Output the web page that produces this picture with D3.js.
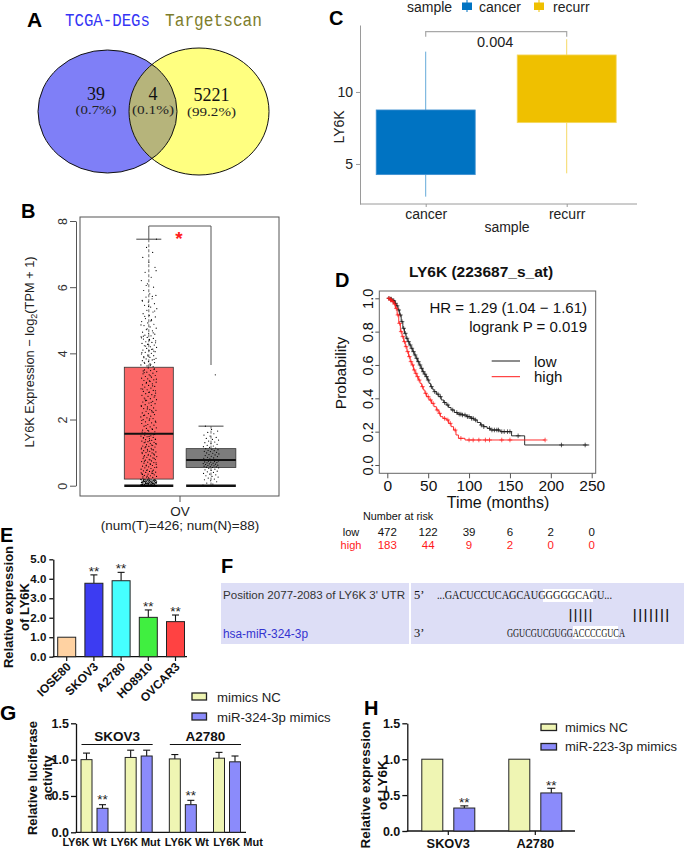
<!DOCTYPE html>
<html><head><meta charset="utf-8">
<script src="https://cdn.jsdelivr.net/npm/d3@7"></script>
<style>body{margin:0;background:#fff}svg{display:block;font-family:"Liberation Sans",Arial,sans-serif}</style>
</head><body><svg id="c" width="685" height="850"></svg>
<script>
// ---------------- DATA ----------------
// A: Venn
const vennSets = ["TCGA-DEGs", "Targetscan"];
const vennCounts = [39, 4, 5221];
const vennPercents = ["(0.7%)", "(0.1%)", "(99.2%)"];
// C: boxplot cancer vs recurr
const cSamples = ["cancer", "recurr"];
const cMin = [2.73, 4.35];
const cQ1 = [4.26, 7.87];
const cQ3 = [8.75, 12.57];
const cMax = [12.8, 13.66];
const cPValue = "0.004";
const cTicks = [5, 10];
// B: GEPIA boxplot
const bGroups = ["T", "N"];
const bMin = [0, 0];
const bQ1 = [0.2, 0.55];
const bMed = [1.57, 0.78];
const bQ3 = [3.58, 1.12];
const bMax = [7.45, 1.8];
const bTicks = [0, 2, 4, 6, 8];
const bTumor = [
0,0,0,0,0,0,0,0,0,0,0,0,0,0,0,0,0,0,0,0,0,0,0,0,0,0,0,0,0,0,
0.01,0.02,0.02,0.03,0.03,0.04,0.04,0.05,0.05,0.05,0.06,0.06,0.07,0.07,0.08,0.08,0.08,0.09,0.09,0.1,
0.1,0.1,0.11,0.11,0.12,0.12,0.12,0.13,0.13,0.14,0.14,0.15,0.15,0.15,0.16,0.16,0.17,0.17,0.18,0.18,
0.19,0.19,0.02,0.04,0.06,0.08,0.1,0.12,0.14,0.16,0.18,0.03,0.05,0.07,0.09,0.11,0.13,0.15,0.17,0.19,
0.01,0.03,0.05,0.07,0.09,0.11,0.13,0.15,0.17,0.19,0.06,0.08,0.1,0.12,0.14,0.16,
0.21,0.23,0.25,0.26,0.28,0.3,0.31,0.33,0.35,0.36,0.38,0.4,0.41,0.43,0.45,0.47,0.48,0.5,0.52,0.54,
0.55,0.57,0.59,0.61,0.62,0.64,0.66,0.68,0.7,0.71,0.73,0.75,0.77,0.79,0.8,0.82,0.84,0.86,0.88,0.9,
0.91,0.93,0.95,0.97,0.99,1.0,1.02,1.04,1.06,1.08,1.1,1.11,1.13,1.15,1.17,1.19,1.2,1.22,1.24,1.26,
1.28,1.3,1.31,1.33,1.35,1.37,1.39,1.4,1.42,1.44,1.46,1.48,1.5,1.51,1.53,1.55,0.24,0.34,0.44,0.6,
0.69,0.78,0.87,0.96,1.05,1.14,1.23,1.32,1.41,1.49,0.27,0.37,0.46,0.56,0.65,0.74,0.83,0.92,1.01,1.09,
1.18,1.27,1.36,1.45,1.54,0.29,0.39,
1.58,1.6,1.63,1.65,1.68,1.7,1.73,1.75,1.78,1.8,1.83,1.85,1.88,1.9,1.93,1.95,1.98,2.0,2.03,2.05,
2.08,2.1,2.13,2.15,2.18,2.2,2.23,2.25,2.28,2.3,2.33,2.35,2.38,2.4,2.43,2.45,2.48,2.5,2.53,2.55,
2.58,2.6,2.63,2.65,2.68,2.7,2.73,2.75,2.78,2.8,2.83,2.85,2.88,2.9,2.93,2.95,2.98,3.0,3.03,3.05,
3.08,3.1,3.13,3.15,3.18,3.2,3.23,3.25,3.28,3.3,3.33,3.35,3.38,3.4,3.43,3.45,3.48,3.5,3.53,3.56,
1.62,1.72,1.82,1.92,2.02,2.12,2.22,2.32,2.42,2.52,2.62,2.72,2.82,2.92,3.02,3.12,3.22,3.32,3.42,3.52,
1.67,1.97,2.27,2.57,2.87,3.17,3.47,
3.6,3.62,3.65,3.67,3.7,3.72,3.75,3.78,3.8,3.83,3.85,3.88,3.9,3.93,3.95,3.98,4.0,4.03,4.05,4.08,
4.1,4.13,4.15,4.18,4.2,4.23,4.25,4.28,4.3,4.33,4.35,4.38,4.4,4.43,4.45,4.48,4.5,4.53,4.55,4.58,
4.6,4.64,4.68,4.72,4.76,4.8,4.84,4.88,4.92,4.96,5.0,5.05,5.1,5.15,5.2,5.25,5.3,5.35,5.4,5.45,
5.5,5.55,5.6,5.65,5.7,5.75,5.8,5.9,6.0,6.1,6.2,6.3,6.45,6.6,6.75,6.9,7.05,7.2,7.45,3.63,
3.73,3.82,3.92,4.02,4.12,4.22,4.32,4.42,4.52,4.62,4.74,4.86,4.98,5.12,5.28,5.42,5.58,5.72,6.05,6.5,
3.68,3.87,4.07,4.27,4.47,5.02];
const bNormal = [
0.02,0.05,0.08,0.12,0.15,0.18,0.2,0.23,0.26,0.28,0.3,0.33,0.35,0.37,0.4,0.42,0.44,0.46,0.48,0.5,0.52,0.54,
0.55,0.56,0.57,0.58,0.59,0.6,0.61,0.62,0.63,0.64,0.65,0.66,0.67,0.68,0.69,0.7,0.71,0.72,0.73,0.74,0.75,0.77,
0.78,0.8,0.81,0.83,0.84,0.86,0.88,0.89,0.91,0.93,0.94,0.96,0.98,0.99,1.01,1.03,1.04,1.06,1.07,1.09,1.1,1.12,
1.14,1.16,1.18,1.2,1.22,1.25,1.27,1.3,1.32,1.35,1.38,1.4,1.43,1.46,1.5,1.53,1.57,1.61,1.65,1.7,1.8,3.35];
// D: Kaplan-Meier
const kmLowT = [0,3,6,9,11,13,15,17,19,21,23,25,27,29,31,33,35,37,39,41,43,45,47,49,51,53,55,57,60,63,66,69,72,75,78,82,86,92,97,102,106,110,114,118,122,126,138,152,168,247];
const kmLowS = [1,0.995,0.985,0.97,0.955,0.93,0.9,0.86,0.82,0.79,0.76,0.74,0.72,0.7,0.68,0.66,0.64,0.62,0.6,0.58,0.56,0.545,0.53,0.51,0.49,0.47,0.455,0.44,0.425,0.41,0.39,0.375,0.36,0.345,0.33,0.315,0.305,0.3,0.29,0.28,0.27,0.255,0.24,0.23,0.22,0.21,0.2,0.175,0.12,0.12];
const kmHighT = [0,3,6,8,10,12,14,16,18,20,22,24,26,28,30,32,34,36,38,40,42,44,46,48,51,54,57,60,63,65,68,72,75,78,81,84,87,95,193];
const kmHighS = [1,0.99,0.98,0.965,0.94,0.9,0.85,0.8,0.77,0.74,0.71,0.68,0.65,0.62,0.6,0.57,0.55,0.53,0.51,0.49,0.47,0.45,0.43,0.41,0.39,0.37,0.35,0.33,0.31,0.29,0.28,0.27,0.25,0.23,0.21,0.18,0.16,0.15,0.15];
const kmLowCensor = [2,4,5,7,8,10,12,14,16,18,20,22,24,26,28,30,32,34,36,38,40,42,44,46,48,50,54,58,62,65,70,74,80,85,88,90,92,95,98,100,103,105,108,115,118,125,128,131,134,136,140,143,147,150,160,213,242];
const kmHighCensor = [2,4,5,7,9,11,13,15,17,19,21,23,25,27,29,31,33,35,37,39,43,47,50,53,56,61,64,70,74,77,83,90,100,105,112,120,125,140,150,193];
const dXTicks = [0,50,100,150,200,250];
const dYTicks = [0,0.2,0.4,0.6,0.8,1.0];
const riskTimes = [0,50,100,150,200,250];
const riskLow = [472,122,39,6,2,0];
const riskHigh = [183,44,9,2,0,0];
const dHR = "HR = 1.29 (1.04 \u2212 1.61)";
const dLogrank = "logrank P = 0.019";
// E: qPCR cell lines
const eCells = ["IOSE80","SKOV3","A2780","HO8910","OVCAR3"];
const eMean = [1.0, 3.77, 3.9, 2.02, 1.8];
const eErr = [0, 0.43, 0.43, 0.38, 0.34];
const eSig = ["", "**", "**", "**", "**"];
const eTicks = [0,1,2,3,4,5];
// G: luciferase
const gLabels = ["LY6K Wt","LY6K Mut","LY6K Wt","LY6K Mut"];
const gLines = ["SKOV3","A2780"];
const gSeries = ["mimics NC","miR-324-3p mimics"];
const gNC = [1.0, 1.03, 1.01, 1.02];
const gNCErr = [0.09, 0.1, 0.06, 0.08];
const gMim = [0.33, 1.05, 0.38, 0.97];
const gMimErr = [0.05, 0.08, 0.06, 0.08];
const gSig = ["**","","**",""];
const ghTicks = [0,0.5,1.0,1.5];
// H: expression after mimics
const hCells = ["SKOV3","A2780"];
const hSeries = ["mimics NC","miR-223-3p mimics"];
const hNC = [1.0, 1.0];
const hMim = [0.32, 0.53];
const hMimErr = [0.03, 0.065];
const hSig = ["**","**"];

// ---------------- DRAW ----------------
const svg = d3.select("#c");
const defs = svg.append("defs");
function T(g, x, y, s, o) {
  const t = g.append("text").attr("x", x).attr("y", y).text(s);
  if (o) for (const k in o) t.attr(k, o[k]);
  return t;
}
function L(g, x1, y1, x2, y2, stroke, w, dash) {
  const l = g.append("line").attr("x1",x1).attr("y1",y1).attr("x2",x2).attr("y2",y2)
    .attr("stroke",stroke).attr("stroke-width",w||1);
  if (dash) l.attr("stroke-dasharray",dash);
  return l;
}

// ===== Panel A =====
(function(){
  const g = svg.append("g");
  T(g, 27, 27, "A", {"font-size":21,"font-weight":"bold"});
  const E1 = {cx:107.5, cy:111.5, rx:69.5, ry:61.5};
  const E2 = {cx:199, cy:111.5, rx:70, ry:63.5};
  defs.append("clipPath").attr("id","clipL").append("ellipse")
    .attr("cx",E1.cx).attr("cy",E1.cy).attr("rx",E1.rx).attr("ry",E1.ry);
  const ell = (e, fill, clip) => {
    const el = g.append("ellipse").attr("cx",e.cx).attr("cy",e.cy).attr("rx",e.rx).attr("ry",e.ry).attr("fill",fill);
    if (clip) el.attr("clip-path","url(#clipL)");
    return el;
  };
  ell(E1, "#7f7ff7");
  ell(E2, "#ffff80");
  ell(E2, "#b6b47b", true);
  ell(E1, "none").attr("stroke","#111").attr("stroke-width",1);
  ell(E2, "none").attr("stroke","#111").attr("stroke-width",1);
  const mono = '"Liberation Mono","DejaVu Sans Mono",monospace';
  T(g, 65, 26, vennSets[0], {"font-family":mono,"font-size":18,fill:"#3535f5",textLength:85,lengthAdjust:"spacingAndGlyphs"});
  T(g, 165, 26, vennSets[1], {"font-family":mono,"font-size":18,fill:"#7d7d2b",textLength:97,lengthAdjust:"spacingAndGlyphs"});
  const serif = '"Liberation Serif","DejaVu Serif",serif';
  const cxs = [96, 153, 211.5], nb = [99.5, 99.5, 101], pb = [114, 113.5, 115.5], pw = [41, 42, 49];
  vennCounts.forEach((v,i) => {
    T(g, cxs[i], nb[i], v, {"font-family":serif,"font-size":18,"text-anchor":"middle",fill:"#111"});
    T(g, cxs[i]-pw[i]/2, pb[i], vennPercents[i], {"font-family":serif,"font-size":13,fill:"#222",textLength:pw[i],lengthAdjust:"spacingAndGlyphs"});
  });
})();

// ===== Panel C =====
(function(){
  const g = svg.append("g");
  T(g, 329, 25, "C", {"font-size":20,"font-weight":"bold"});
  const y = d3.scaleLinear().domain([2.22, 14.65]).range([204, 25]);
  const x = d3.scalePoint().domain(cSamples).range([425.7, 566.7]);
  const cols = ["#0073C2", "#EFC000"];
  const ya = g.append("g").attr("transform","translate(360,0)")
    .call(d3.axisLeft(y).tickValues(cTicks).tickSize(4).tickSizeOuter(0).tickPadding(3));
  ya.selectAll("path,line").attr("stroke","#9a9a9a");
  ya.selectAll("text").attr("font-size",14).attr("fill","#222").attr("font-family",null);
  const xa = g.append("g").attr("transform","translate(0,204)")
    .call(d3.axisBottom(x).tickSize(3).tickPadding(2));
  xa.select(".domain").remove();
  xa.selectAll("line").attr("stroke","#9a9a9a");
  xa.selectAll("text").attr("font-size",14).attr("fill","#222").attr("font-family",null);
  L(g, 360, 204, 637, 204, "#9a9a9a", 1);
  cSamples.forEach((s,i) => {
    const cx = x(s);
    L(g, cx, y(cMax[i]), cx, y(cQ3[i]), cols[i], 1).attr("opacity",0.6);
    L(g, cx, y(cQ1[i]), cx, y(cMin[i]), cols[i], 1).attr("opacity",0.6);
    g.append("rect").attr("x", cx-49.5).attr("width",99)
      .attr("y", y(cQ3[i])).attr("height", y(cQ1[i]) - y(cQ3[i]))
      .attr("fill", cols[i]).attr("stroke", i ? "#f5d860" : "#3f8fd0").attr("stroke-width",0.8);
  });
  g.append("path").attr("d",`M${x(cSamples[0])},36.7V31.7H${x(cSamples[1])}V36.7`)
    .attr("fill","none").attr("stroke","#a8a8a8").attr("stroke-width",1.2);
  T(g, (x(cSamples[0])+x(cSamples[1]))/2 - 1, 46.5, cPValue, {"font-size":14.5,"text-anchor":"middle",fill:"#222"});
  T(g, 339, 127, "LY6K", {"font-size":14,"text-anchor":"middle",fill:"#222",dy:"0.35em",transform:"rotate(-90,339,127)"});
  T(g, 507, 232, "sample", {"font-size":14,"text-anchor":"middle",fill:"#222"});
  // legend
  T(g, 407, 11.5, "sample", {"font-size":14,fill:"#222"});
  const lx = [462, 534], tx = [479, 553];
  cSamples.forEach((s,i) => {
    g.append("rect").attr("x",lx[i]).attr("y",2.5).attr("width",10).attr("height",7.5).attr("fill",cols[i]);
    L(g, lx[i]+5, 0, lx[i]+5, 12, cols[i], 1);
    T(g, tx[i], 11.5, s, {"font-size":14,fill:"#222"});
  });
})();

// ===== Panel B =====
(function(){
  const g = svg.append("g");
  T(g, 21, 218, "B", {"font-size":20,"font-weight":"bold"});
  const y = d3.scaleLinear().domain([0, 8]).range([485.7, 221]);
  const x = d3.scalePoint().domain(bGroups).range([148.8, 211]);
  g.append("rect").attr("x",80).attr("y",217).attr("width",199).attr("height",279)
    .attr("fill","none").attr("stroke","#555").attr("stroke-width",1);
  const ya = g.append("g").attr("transform","translate(76,0)")
    .call(d3.axisLeft(y).tickValues(bTicks).tickSize(6).tickSizeOuter(0));
  ya.selectAll("path,line").attr("stroke","#555");
  ya.selectAll("text").attr("font-size",12.5).attr("fill","#333").attr("font-family",null)
    .attr("x",null).attr("dy","0.35em").attr("text-anchor","middle").attr("transform","translate(-13,0) rotate(-90)");
  const cols = ["#fb6767", "#7c7c7c"];
  const jit = (i) => (((i * 0.6180339887) % 1) - 0.5) * 16;
  bGroups.forEach((gr,i) => {
    const cx = x(gr), w = i ? 49.7 : 49;
    L(g, cx, y(bQ3[i]), cx, y(bMax[i]), "#444", 0.8, "3,2");
    L(g, cx, y(bQ1[i]), cx, y(bMin[i]), "#444", 0.8, "3,2");
    L(g, cx-12.5, y(bMax[i]), cx+12.5, y(bMax[i]), "#444", 1);
    g.append("rect").attr("x",cx-w/2).attr("width",w).attr("y",y(bQ3[i])).attr("height",y(bQ1[i])-y(bQ3[i]))
      .attr("fill",cols[i]).attr("stroke","#333").attr("stroke-width",0.8);
    L(g, cx-w/2, y(bMin[i]), cx+w/2, y(bMin[i]), "#111", 2.4);
    const vals = i ? bNormal : bTumor;
    g.append("g").selectAll("circle").data(vals).join("circle")
      .attr("cx",(d,k) => cx + jit(k)).attr("cy", d => y(d)).attr("r",0.6).attr("fill","#000");
    L(g, cx-w/2, y(bMed[i]), cx+w/2, y(bMed[i]), "#111", 2);
  });
  g.append("path").attr("d",`M${x("T")},239V226H${x("N")}V365`).attr("fill","none").attr("stroke","#555").attr("stroke-width",1);
  T(g, 179, 244.5, "*", {"font-size":19,"text-anchor":"middle",fill:"#ff2020","font-weight":"bold"});
  L(g, 180, 496, 180, 502, "#555", 1);
  T(g, 180, 515.5, "OV", {"font-size":13.5,"text-anchor":"middle",fill:"#222"});
  T(g, 180, 530, "(num(T)=426; num(N)=88)", {"font-size":13.5,"text-anchor":"middle",fill:"#222"});
  const yl = T(g, 30, 352, "", {"font-size":12.8,"text-anchor":"middle",fill:"#222",dy:"0.35em",transform:"rotate(-90,30,352)"});
  yl.append("tspan").text("LY6K Expression \u2212 log");
  yl.append("tspan").text("2").attr("font-size",9).attr("dy",3);
  yl.append("tspan").text("(TPM + 1)").attr("dy",-3);
})();

// ===== Panel D =====
(function(){
  const g = svg.append("g");
  T(g, 335, 287, "D", {"font-size":20,"font-weight":"bold"});
  const x = d3.scaleLinear().domain([0, 250]).range([387.3, 591.7]);
  const y = d3.scaleLinear().domain([0, 1]).range([465, 298.3]);
  g.append("rect").attr("x",379.3).attr("y",291).attr("width",216.4).attr("height",182.3)
    .attr("fill","none").attr("stroke","#666").attr("stroke-width",1);
  const xa = g.append("g").attr("transform","translate(0,473.3)")
    .call(d3.axisBottom(x).tickValues(dXTicks).tickSize(5).tickPadding(2));
  xa.select(".domain").remove();
  xa.selectAll("line").attr("stroke","#555");
  xa.selectAll("text").attr("font-size",15.5).attr("fill","#111").attr("font-family",null);
  const ya = g.append("g").attr("transform","translate(379.3,0)")
    .call(d3.axisLeft(y).tickValues(dYTicks).tickFormat(d3.format(".1f")).tickSize(4));
  ya.select(".domain").remove();
  ya.selectAll("line").attr("stroke","#555");
  ya.selectAll("text").attr("font-size",14.5).attr("fill","#111").attr("font-family",null)
    .attr("x",null).attr("dy","0.35em").attr("text-anchor","middle").attr("transform","translate(-11,0) rotate(-90)");
  T(g, 481, 277, "LY6K (223687_s_at)", {"font-size":15.5,"font-weight":"bold","text-anchor":"middle",fill:"#111"});
  const line = d3.line().x(d => x(d[0])).y(d => y(d[1])).curve(d3.curveStepAfter);
  const series = [[kmLowT, kmLowS, kmLowCensor, "#1a1a1a"], [kmHighT, kmHighS, kmHighCensor, "#ff1a1a"]];
  series.forEach(([ts, ss, cs, col]) => {
    const pts = ts.map((t,i) => [t, ss[i]]);
    g.append("path").attr("d", line(pts)).attr("fill","none").attr("stroke",col).attr("stroke-width",0.9);
    const surv = t => { let s = ss[0]; for (let i=0;i<ts.length;i++) if (ts[i] <= t) s = ss[i]; return s; };
    g.append("path").attr("d", cs.map(t => {
      const px = x(t), py = y(surv(t));
      return `M${px-2.3},${py}H${px+2.3}M${px},${py-2.3}V${py+2.3}`;
    }).join("")).attr("stroke",col).attr("stroke-width",0.7).attr("fill","none");
  });
  T(g, 587, 313, dHR, {"font-size":15,"text-anchor":"end",fill:"#111"});
  T(g, 587, 331.5, dLogrank, {"font-size":15,"text-anchor":"end",fill:"#111"});
  L(g, 491.7, 361, 520, 361, "#1a1a1a", 1);
  L(g, 491.7, 376.7, 520, 376.7, "#ff1a1a", 1);
  T(g, 534, 366.5, "low", {"font-size":15,fill:"#111"});
  T(g, 534, 382, "high", {"font-size":15,fill:"#111"});
  T(g, 341, 373, "Probability", {"font-size":15.5,"text-anchor":"middle",fill:"#111",dy:"0.35em",transform:"rotate(-90,341,373)"});
  T(g, 498, 508, "Time (months)", {"font-size":16,"text-anchor":"middle",fill:"#111"});
  T(g, 363, 520, "Number at risk", {"font-size":10.8,fill:"#111"});
  T(g, 351, 536, "low", {"font-size":11,"text-anchor":"middle",fill:"#111"});
  T(g, 351, 548.5, "high", {"font-size":11,"text-anchor":"middle",fill:"#ff1a1a"});
  riskTimes.forEach((t,i) => {
    T(g, x(t), 536, riskLow[i], {"font-size":11.5,"text-anchor":"middle",fill:"#111"});
    T(g, x(t), 548.5, riskHigh[i], {"font-size":11.5,"text-anchor":"middle",fill:"#ff1a1a"});
  });
})();

// ===== Panel E =====
(function(){
  const g = svg.append("g");
  T(g, 0, 542, "E", {"font-size":20,"font-weight":"bold"});
  const y = d3.scaleLinear().domain([0, 5]).range([656.7, 559.3]);
  const x = d3.scalePoint().domain(eCells).range([66.7, 175.5]);
  const cols = ["#ffd2a2", "#3c3cf2", "#45ffff", "#40ef40", "#ff4242"];
  const ya = g.append("g").attr("transform","translate(53.3,0)")
    .call(d3.axisLeft(y).tickValues(eTicks).tickSize(4).tickSizeOuter(0).tickPadding(3));
  ya.selectAll("path,line").attr("stroke","#111").attr("stroke-width",1.3);
  ya.selectAll("text").attr("font-size",11.5).attr("font-weight","bold").attr("fill","#111").attr("font-family",null);
  L(g, 52.7, 656.7, 187, 656.7, "#111", 1.3);
  eCells.forEach((c,i) => {
    const cx = x(c);
    L(g, cx, 656.7, cx, 661, "#111", 1.2);
    if (eErr[i] > 0) {
      L(g, cx, y(eMean[i]), cx, y(eMean[i]+eErr[i]), "#111", 1.1);
      L(g, cx-3.5, y(eMean[i]+eErr[i]), cx+3.5, y(eMean[i]+eErr[i]), "#111", 1.1);
    }
    g.append("rect").attr("x",cx-9).attr("width",18).attr("y",y(eMean[i])).attr("height",y(0)-y(eMean[i]))
      .attr("fill",cols[i]).attr("stroke","#222").attr("stroke-width",1);
    if (eSig[i]) T(g, cx, y(eMean[i]+eErr[i]) + 1, eSig[i], {"font-size":13.5,"text-anchor":"middle",fill:"#222"});
    T(g, cx+5, 667.5, c, {"font-size":12,"font-weight":"bold","text-anchor":"end",fill:"#111",transform:`rotate(-45,${cx+5},667.5)`});
  });
  T(g, 8, 607, "Relative expression", {"font-size":13,"font-weight":"bold","text-anchor":"middle",fill:"#111",dy:"0.35em",transform:"rotate(-90,8,607)"});
  T(g, 24, 607, "of LY6K", {"font-size":13,"font-weight":"bold","text-anchor":"middle",fill:"#111",dy:"0.35em",transform:"rotate(-90,24,607)"});
})();

// ===== Panel F =====
(function(){
  const g = svg.append("g");
  T(g, 221, 573, "F", {"font-size":20,"font-weight":"bold"});
  g.append("rect").attr("x",221).attr("y",583).attr("width",463).attr("height",61).attr("fill","#dddef6");
  L(g, 410, 583, 410, 644, "#ffffff", 2);
  T(g, 223, 599, "Position 2077-2083 of LY6K 3' UTR", {"font-size":11.5,fill:"#333",textLength:182,lengthAdjust:"spacingAndGlyphs"});
  T(g, 223, 638, "hsa-miR-324-3p", {"font-size":12.5,fill:"#3434d0",textLength:85,lengthAdjust:"spacingAndGlyphs"});
  const serif = '"Liberation Serif","DejaVu Serif",serif';
  g.append("rect").attr("x",543).attr("y",589).attr("width",50).attr("height",13).attr("fill","#fff");
  g.append("rect").attr("x",573).attr("y",626).attr("width",45).attr("height",13).attr("fill","#fff");
  T(g, 414, 599, "5\u2019", {"font-family":serif,"font-size":12.5,fill:"#111"});
  T(g, 414, 637, "3\u2019", {"font-family":serif,"font-size":12.5,fill:"#111"});
  T(g, 437, 599, "...GACUCCUCAGCAUGGGGGCAGU...", {"font-family":serif,"font-size":12,fill:"#111",textLength:175,lengthAdjust:"spacingAndGlyphs"});
  T(g, 507, 637, "GGUCGUCGUGGACCCCGUCA", {"font-family":serif,"font-size":12,fill:"#111",textLength:118,lengthAdjust:"spacingAndGlyphs"});
  T(g, 568, 618.5, "|||||", {"font-family":serif,"font-size":14,fill:"#111",textLength:25,lengthAdjust:"spacingAndGlyphs"});
  T(g, 632, 618.5, "|||||||", {"font-family":serif,"font-size":14,fill:"#111",textLength:38,lengthAdjust:"spacingAndGlyphs"});
})();

// ===== Panel G =====
(function(){
  const g = svg.append("g");
  T(g, 0, 720, "G", {"font-size":21,"font-weight":"bold"});
  const y = d3.scaleLinear().domain([0, 1.5]).range([832.3, 723.3]);
  const x = d3.scalePoint().domain(d3.range(gLabels.length)).range([94.5, 227]);
  const lx = d3.scalePoint().domain(d3.range(gLabels.length)).range([84.5, 238]);
  const cols = ["#eff5b3", "#8b8bfb"];
  const ya = g.append("g").attr("transform","translate(76,0)")
    .call(d3.axisLeft(y).tickValues(ghTicks).tickFormat(d3.format(".1f")).tickSize(5).tickSizeOuter(0).tickPadding(2));
  ya.selectAll("path,line").attr("stroke","#111").attr("stroke-width",1.3);
  ya.selectAll("text").attr("font-size",12.5).attr("font-weight","bold").attr("fill","#111").attr("font-family",null);
  L(g, 75.5, 832.3, 246, 832.3, "#111", 1.3);
  const bar = (cx, v, e, col) => {
    if (e > 0) {
      L(g, cx, y(v), cx, y(v+e), "#111", 1.1);
      L(g, cx-3.5, y(v+e), cx+3.5, y(v+e), "#111", 1.1);
    }
    g.append("rect").attr("x",cx-5.5).attr("width",11).attr("y",y(v)).attr("height",y(0)-y(v))
      .attr("fill",col).attr("stroke","#222").attr("stroke-width",1);
  };
  gLabels.forEach((lab,i) => {
    bar(x(i)-8, gNC[i], gNCErr[i], cols[0]);
    bar(x(i)+8, gMim[i], gMimErr[i], cols[1]);
    if (gSig[i]) T(g, x(i)+8, y(gMim[i]+gMimErr[i]) - 0.5, gSig[i], {"font-size":13.5,"text-anchor":"middle",fill:"#222"});
    T(g, lx(i), 846, lab, {"font-size":11,"font-weight":"bold","text-anchor":"middle",fill:"#111"});
  });
  gLines.forEach((c,j) => {
    const x0 = x(2*j) - 13, x1 = x(2*j+1) + 14;
    L(g, x0, 744.5, x1, 744.5, "#111", 1.1);
    T(g, (x0+x1)/2, 740.5, c, {"font-size":13.5,"font-weight":"bold","text-anchor":"middle",fill:"#111"});
  });
  T(g, 32, 778, "Relative luciferase", {"font-size":13,"font-weight":"bold","text-anchor":"middle",fill:"#111",dy:"0.35em",transform:"rotate(-90,32,778)"});
  T(g, 47, 778, "activity", {"font-size":13,"font-weight":"bold","text-anchor":"middle",fill:"#111",dy:"0.35em",transform:"rotate(-90,47,778)"});
  gSeries.forEach((s,j) => {
    g.append("rect").attr("x",192).attr("y",693 + j*20).attr("width",14.5).attr("height",7)
      .attr("fill",cols[j]).attr("stroke","#222").attr("stroke-width",1.3);
    T(g, 217, 701.5 + j*20, s, {"font-size":13.2,fill:"#222"});
  });
})();

// ===== Panel H =====
(function(){
  const g = svg.append("g");
  T(g, 364, 715, "H", {"font-size":20,"font-weight":"bold"});
  const y = d3.scaleLinear().domain([0, 1.5]).range([831, 723.3]);
  const x = d3.scalePoint().domain(hCells).range([448.3, 535.3]);
  const cols = ["#eff5b3", "#8b8bfb"];
  const ya = g.append("g").attr("transform","translate(407.3,0)")
    .call(d3.axisLeft(y).tickValues(ghTicks).tickFormat(d3.format(".1f")).tickSize(5).tickSizeOuter(0).tickPadding(2));
  ya.selectAll("path,line").attr("stroke","#111").attr("stroke-width",1.3);
  ya.selectAll("text").attr("font-size",12.5).attr("font-weight","bold").attr("fill","#111").attr("font-family",null);
  L(g, 406.8, 831, 575, 831, "#111", 1.3);
  const bar = (cx, v, e, col) => {
    if (e > 0) {
      L(g, cx, y(v), cx, y(v+e), "#111", 1.1);
      L(g, cx-4, y(v+e), cx+4, y(v+e), "#111", 1.1);
    }
    g.append("rect").attr("x",cx-10.5).attr("width",21).attr("y",y(v)).attr("height",y(0)-y(v))
      .attr("fill",col).attr("stroke","#222").attr("stroke-width",1);
  };
  hCells.forEach((c,i) => {
    bar(x(c)-16, hNC[i], 0, cols[0]);
    bar(x(c)+16, hMim[i], hMimErr[i], cols[1]);
    L(g, x(c), 831, x(c), 835, "#111", 1.2);
    T(g, x(c)+16, y(hMim[i]+hMimErr[i]) + 1.5, hSig[i], {"font-size":13.5,"text-anchor":"middle",fill:"#222"});
    T(g, x(c), 848, c, {"font-size":12.8,"font-weight":"bold","text-anchor":"middle",fill:"#111"});
  });
  T(g, 365, 785, "Relative expression", {"font-size":13.5,"font-weight":"bold","text-anchor":"middle",fill:"#111",dy:"0.35em",transform:"rotate(-90,365,785)"});
  T(g, 382, 785, "of LY6K", {"font-size":13.5,"font-weight":"bold","text-anchor":"middle",fill:"#111",dy:"0.35em",transform:"rotate(-90,382,785)"});
  hSeries.forEach((s,j) => {
    g.append("rect").attr("x",541).attr("y",724 + j*19.5).attr("width",15.5).attr("height",6.5)
      .attr("fill",cols[j]).attr("stroke","#222").attr("stroke-width",1.3);
    T(g, 565, 731.5 + j*19.5, s, {"font-size":13,fill:"#222"});
  });
})();
</script></body></html>
